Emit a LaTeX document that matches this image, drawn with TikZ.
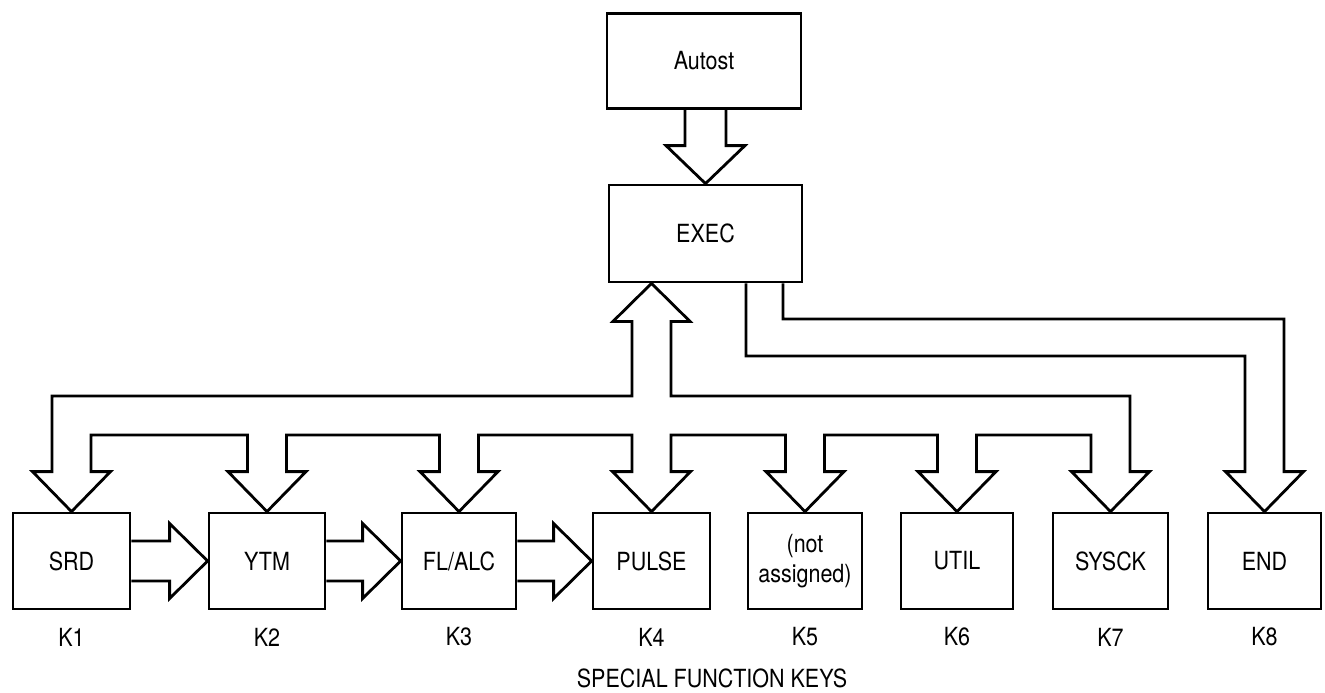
\documentclass[tikz,border=0pt]{standalone}
\usepackage{fontspec}
\setmainfont[FakeStretch=0.86]{TeX Gyre Heros}
\usetikzlibrary{calc}
\tikzset{
  box/.style={draw, line width=2.8pt, inner sep=0pt, minimum height=96pt,
    font=\fontsize{25}{30}\selectfont, align=center},
  pipe/.style={draw, line width=2.8pt, line join=miter},
  lbl/.style={inner sep=0pt, font=\fontsize{25}{30}\selectfont},
}
\newcommand\harrow[2]{%
  \draw[pipe] ($(#1.east)+(0,-20)$) -- ($(#2.west)+(-38,-20)$) -- ($(#2.west)+(-38,-37.5)$)
    -- (#2.west) -- ($(#2.west)+(-38,37.5)$) -- ($(#2.west)+(-38,20)$) -- ($(#1.east)+(0,20)$);}
\begin{document}
\begin{tikzpicture}[x=1pt,y=-1pt]
\useasboundingbox (0,0) rectangle (1325,693);
% top boxes
\node[box, minimum width=194pt, minimum height=95pt] (autost) at (704,61) {Autost};
\node[box, minimum width=193pt, minimum height=97pt] (exec) at (705.5,233.5) {EXEC};
% bottom boxes
\node[box, minimum width=117pt] (srd)   at (71.5,561)  {SRD};
\node[box, minimum width=116pt] (ytm)   at (267,561)   {YTM};
\node[box, minimum width=114pt] (flalc) at (459,561)   {FL/ALC};
\node[box, minimum width=117pt] (pulse) at (651.5,561) {PULSE};
\node[box, minimum width=114pt] (na)    at (805,561)   {(not\\assigned)};
\node[box, minimum width=112pt] (util)  at (957,561)   {UTIL};
\node[box, minimum width=115pt] (sysck) at (1110.5,561){SYSCK};
\node[box, minimum width=113pt] (endk)  at (1264.5,561){END};
% key labels
\node[lbl] (k1) at (srd.south |- 0,637) {K1};
\node[lbl] (k2) at (ytm.south |- 0,637) {K2};
\node[lbl] (k3) at (flalc.south |- 0,637) {K3};
\node[lbl] (k4) at (pulse.south |- 0,637) {K4};
\node[lbl] (k5) at (na.south |- 0,637) {K5};
\node[lbl] (k6) at (util.south |- 0,637) {K6};
\node[lbl] (k7) at (sysck.south |- 0,637) {K7};
\node[lbl] (k8) at (endk.south |- 0,637) {K8};
\node[lbl] (title) at (712,678) {SPECIAL FUNCTION KEYS};
% arrow head points above each bottom box
\foreach \n in {srd,ytm,flalc,pulse,na,util,sysck,endk}{
  \coordinate (\n-L)  at ($(\n.north)+(-19.5,-40)$);
  \coordinate (\n-R)  at ($(\n.north)+(19.5,-40)$);
  \coordinate (\n-HL) at ($(\n.north)+(-39,-40)$);
  \coordinate (\n-HR) at ($(\n.north)+(39,-40)$);
}
% up arrow into EXEC
\coordinate (uptip) at (exec.south -| pulse.north);
\coordinate (upL)  at ($(uptip)+(-19.5,38)$);
\coordinate (upR)  at ($(uptip)+(19.5,38)$);
\coordinate (upHL) at ($(uptip)+(-38.5,38)$);
\coordinate (upHR) at ($(uptip)+(38.5,38)$);
% Autost -> EXEC
\coordinate (aL)  at ($(exec.north)+(-20.5,-38)$);
\coordinate (aR)  at ($(exec.north)+(20.5,-38)$);
\coordinate (aHL) at ($(exec.north)+(-39.5,-38)$);
\coordinate (aHR) at ($(exec.north)+(39.5,-38)$);
\draw[pipe] (aL |- autost.south) -- (aL) -- (aHL) -- (exec.north) -- (aHR) -- (aR) -- (aR |- autost.south);
% EXEC <-> K1..K7 distribution
\draw[pipe] (upL |- 0,396) -- (srd-L |- 0,396) -- (srd-L) -- (srd-HL) -- (srd.north) -- (srd-HR) -- (srd-R)
  -- (srd-R |- 0,435) -- (ytm-L |- 0,435) -- (ytm-L) -- (ytm-HL) -- (ytm.north) -- (ytm-HR) -- (ytm-R)
  -- (ytm-R |- 0,435) -- (flalc-L |- 0,435) -- (flalc-L) -- (flalc-HL) -- (flalc.north) -- (flalc-HR) -- (flalc-R)
  -- (flalc-R |- 0,435) -- (pulse-L |- 0,435) -- (pulse-L) -- (pulse-HL) -- (pulse.north) -- (pulse-HR) -- (pulse-R)
  -- (pulse-R |- 0,435) -- (na-L |- 0,435) -- (na-L) -- (na-HL) -- (na.north) -- (na-HR) -- (na-R)
  -- (na-R |- 0,435) -- (util-L |- 0,435) -- (util-L) -- (util-HL) -- (util.north) -- (util-HR) -- (util-R)
  -- (util-R |- 0,435) -- (sysck-L |- 0,435) -- (sysck-L) -- (sysck-HL) -- (sysck.north) -- (sysck-HR) -- (sysck-R)
  -- (sysck-R |- 0,396) -- (upR |- 0,396) -- (upR) -- (upHR) -- (uptip) -- (upHL) -- (upL) -- cycle;
% EXEC -> END
\draw[pipe] (746,0 |- exec.south) -- (746,356) -- (endk-L |- 0,356) -- (endk-L) -- (endk-HL) -- (endk.north)
  -- (endk-HR) -- (endk-R) -- (endk-R |- 0,319) -- (783,319) -- (783,0 |- exec.south);
% horizontal arrows
\harrow{srd}{ytm}
\harrow{ytm}{flalc}
\harrow{flalc}{pulse}
\end{tikzpicture}
\end{document}
